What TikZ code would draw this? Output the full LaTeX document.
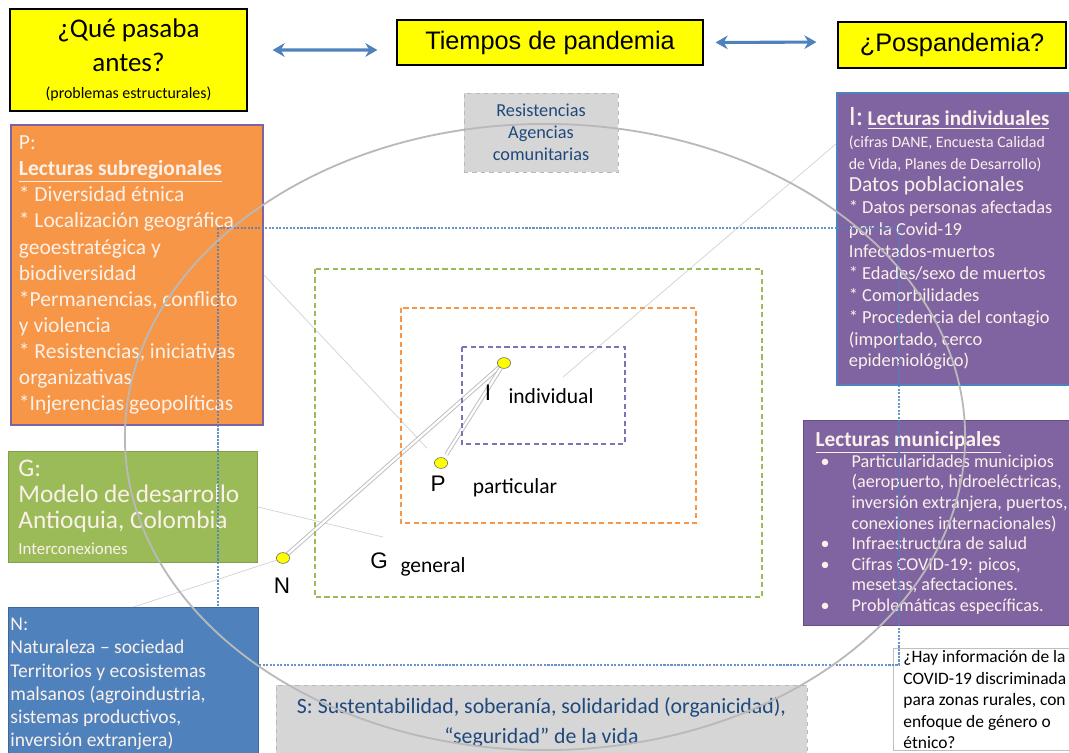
\documentclass[tikz,border=0pt]{standalone}
\usepackage{fontspec}
\setmainfont{Carlito}
\newfontfamily\arialfont{Liberation Sans}
\usetikzlibrary{arrows.meta,shapes.geometric,backgrounds}
\definecolor{ylw}{HTML}{FFFF00}
\definecolor{blu}{HTML}{4F81BD}
\definecolor{orng}{HTML}{F79646}
\definecolor{grn}{HTML}{9BBB59}
\definecolor{purp}{HTML}{8064A2}
\definecolor{zonepurp}{HTML}{7F72B4}
\definecolor{navy}{HTML}{1F497D}
\definecolor{boxtxt}{HTML}{FBF1EA}
\newcommand{\itemdot}{\hspace*{0.125cm}\makebox[0.775cm][l]{\textbullet}}
\newcommand{\itempad}{\hspace*{0.9cm}}

\begin{document}
\begin{tikzpicture}[x=0.025cm, y=-0.025cm,
  yellowbox/.style={draw=black, fill=ylw, line width=0.8pt, align=center},
  readbox/.style={anchor=north west, text=boxtxt, align=flush left, inner ysep=0pt},
  graybox/.style={draw=gray!55, dashed, fill=black!16, text=navy, align=center},
  twoway/.style={{Stealth[length=0.3cm,width=0.34cm]}-{Stealth[length=0.3cm,width=0.34cm]}, blu, line width=2.2pt},
  zone/.style={line width=1.3pt, dash pattern=on 3.6pt off 2.4pt},
  spot/.style={ellipse, draw=black!60, fill=ylw, minimum width=0.33cm, minimum height=0.27cm, inner sep=0pt},
  letter/.style={anchor=base, font=\arialfont\fontsize{16}{18}\selectfont},
  word/.style={anchor=base, font=\fontsize{15.3}{17}\selectfont},
  ray/.style={draw=gray!35, line width=0.5pt},
  twin/.style={draw=gray!50, double=white, double distance=1.6pt, line width=0.7pt},
  scopeline/.style={draw=blu, line width=0.8pt, dash pattern=on 1.5pt off 1pt, opacity=0.85},
  ring/.style={draw=gray!55, line width=1.3pt}]
\useasboundingbox (0,0) rectangle (1069,752);
\clip (0,0) rectangle (1069,752);

\node[yellowbox, minimum width=5.925cm, minimum height=2.55cm, font=\fontsize{19.2}{24}\selectfont] (antes) at (128.5,60) {¿Qué pasaba\\antes?\\[-4.6pt]{\fontsize{11.3}{13.5}\selectfont (problemas estructurales)}};
\node[yellowbox, minimum width=7.65cm, minimum height=1.125cm, font=\arialfont\fontsize{18}{21}\selectfont] (tiempos) at (550,42.5) {Tiempos de pandemia};
\node[yellowbox, minimum width=5.7cm, minimum height=1.15cm, font=\arialfont\fontsize{18}{21}\selectfont] (pos) at (952,45) {¿Pospandemia?};
\draw[twoway, shorten <=0.625cm, shorten >=0.475cm] ([yshift=0.25cm]antes.east) -- ([yshift=-0.1875cm]tiempos.west);
\draw[twoway, shorten <=0.3cm, shorten >=0.525cm] (tiempos.east) -- ([yshift=0.075cm]pos.west);

\node[graybox, minimum width=3.85cm, minimum height=1.975cm, font=\fontsize{13}{15.6}\selectfont] (resist) at (541,132.5) {Resistencias\\Agencias\\comunitarias};

\node[readbox, fill=orng, draw=purp, line width=1.3pt, minimum width=6.3cm, minimum height=7.5cm, text width=5.9cm, inner xsep=0.2cm, font=\fontsize{15.3}{18.5}\selectfont] (pbox) at (10,124) {P:\\\underline{\textbf{Lecturas subregionales}}\\{*} Diversidad étnica\\{*} Localización geográfica\\geoestratégica y\\biodiversidad\\{*}Permanencias, conflicto\\y violencia\\{*} Resistencias, iniciativas\\organizativas\\{*}Injerencias geopolíticas};

\node[readbox, fill=grn, draw=grn!85!black, line width=0.6pt, minimum width=6.225cm, minimum height=2.775cm, text width=5.725cm, inner xsep=0.25cm, font=\fontsize{18}{18.5}\selectfont] (gbox) at (8,451) {G:\\Modelo de desarrollo\\Antioquia, Colombia\\{\fontsize{12}{13}\selectfont Interconexiones}};

\node[readbox, fill=blu, draw=blu!80!black, line width=0.6pt, minimum width=6.25cm, minimum height=3.825cm, text width=6.15cm, inner xsep=0.05cm, font=\fontsize{13.9}{16.4}\selectfont] (nbox) at (8,607) {N:\\Naturaleza – sociedad\\Territorios y ecosistemas\\malsanos (agroindustria,\\sistemas productivos,\\inversión extranjera)};

\node[readbox, fill=purp, draw=blu, line width=1.2pt, minimum width=6.1cm, minimum height=7.3cm, text width=5.5cm, inner xsep=0.3cm, font=\fontsize{13.1}{15.6}\selectfont] (ibox) at (836,92) {{\fontsize{20}{20}\selectfont I:} \underline{\textbf{\fontsize{14.9}{15.6}\selectfont Lecturas individuales}}\\{\fontsize{11.3}{13.5}\selectfont (cifras DANE, Encuesta Calidad}\\{\fontsize{11.3}{13.5}\selectfont de Vida, Planes de Desarrollo)}\\{\fontsize{15.3}{17}\selectfont Datos poblacionales}\\{*} Datos personas afectadas\\por la Covid-19\\Infectados-muertos\\{*} Edades/sexo de muertos\\{*} Comorbilidades\\{*} Procedencia del contagio\\(importado, cerco\\epidemiológico)};

\node[readbox, fill=purp, draw=purp!80!black, line width=0.8pt, minimum width=7.6cm, minimum height=5.125cm, text width=7cm, inner xsep=0.3cm, font=\fontsize{12.9}{14.65}\selectfont] (mbox) at (803,420) {{\fontsize{15.2}{14.65}\selectfont\underline{\textbf{Lecturas municipales}}}\\\itemdot Particularidades municipios\\\itempad (aeropuerto, hidroeléctricas,\\\itempad inversión extranjera, puertos,\\\itempad conexiones internacionales)\\\itemdot Infraestructura de salud\\\itemdot Cifras COVID-19: picos,\\\itempad mesetas, afectaciones.\\\itemdot Problemáticas específicas.};

\node[readbox, text=black, fill=white, draw=gray!50, line width=0.6pt, minimum width=5cm, minimum height=2.56cm, text width=4.5cm, inner xsep=0.25cm, font=\fontsize{12.4}{15.2}\selectfont] (qbox) at (893,648) {¿Hay información de la\\COVID-19 discriminada\\para zonas rurales, con\\enfoque de género o\\étnico?};

\node[graybox, minimum width=13.275cm, minimum height=1.875cm, font=\fontsize{15.5}{21.3}\selectfont] (sbox) at (541.5,722.5) {S: Sustentabilidad, soberanía, solidaridad (organicidad),\\“seguridad” de la vida};

\draw[zone, grn] (315,269) rectangle (762,597);
\draw[zone, orng] (401,308) rectangle (696,523);
\draw[zone, zonepurp] (462,347) rectangle (625,444);

\node[spot] (idot) at (504,363) {};
\node[spot] (pdot) at (441,463) {};
\node[spot] (ndot) at (283,558) {};

\node[letter] (iname) at (488,400) {I};
\node[word] (ilbl) at (551,403) {individual};
\node[letter] (pname) at (438,491) {P};
\node[word] (plbl) at (515,493) {particular};
\node[letter] (gname) at (379,568) {G};
\node[word] (glbl) at (433,572) {general};
\node[letter] (nname) at (282,593) {N};

\begin{scope}[on background layer]
\coordinate (iend) at (563,377);
\coordinate (gend) at (383,537);
\draw[ray, shorten >=0.35cm] (pbox.east) -- (pdot);
\draw[ray] (iend) -- ([yshift=2.375cm]ibox.west);
\draw[ray] (gend) -- (gbox.east);
\draw[ray] (ndot) -- (nbox.north);
\draw[twin] (ndot) -- (idot);
\draw[twin, shorten >=0.1cm] (idot) -- (pdot);
\end{scope}

\draw[scopeline] (218,228) rectangle (899,665);
\draw[ring] (545,437) ellipse [x radius=10.5cm, y radius=7.825cm];
\end{tikzpicture}
\end{document}
